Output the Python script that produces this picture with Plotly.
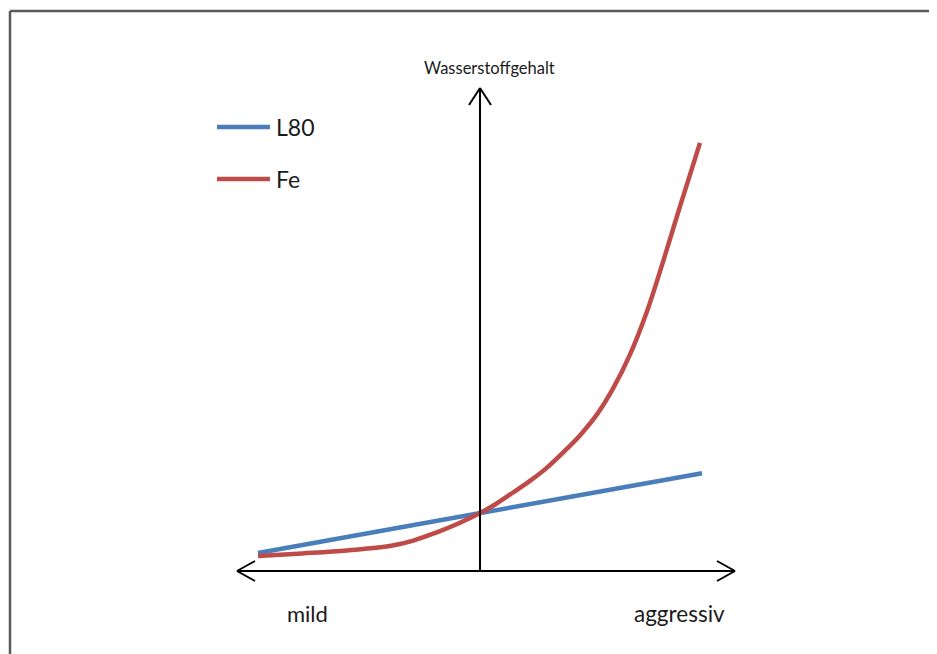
import plotly.graph_objects as go

# ---- data (relative units: x = mild(-1) .. aggressiv(+1), y = Wasserstoffgehalt) ----
l80_x = [-1.0, 1.0]
l80_y = [4.2, 22.8]

fe_x = [-1.0, -0.80, -0.60, -0.40, -0.30, -0.20, -0.10, 0.0, 0.077, 0.149, 0.225,
        0.302, 0.374, 0.450, 0.527, 0.599, 0.676, 0.752, 0.824, 0.901, 0.991]
fe_y = [3.5, 4.1, 4.8, 5.9, 7.1, 8.9, 11.0, 13.5, 15.8, 18.3, 21.0,
        24.1, 27.6, 31.6, 36.5, 42.5, 50.5, 60.5, 72.0, 85.0, 99.8]

series_names = ["L80", "Fe"]
series_colors = ["#4A7EBB", "#BE4B48"]
x_labels = ["mild", "aggressiv"]
y_title = "Wasserstoffgehalt"

# ---- layout geometry (page has an 8px body margin) ----
OFF = 8
W, H = 937, 654
X0_PX, Y0_PX = 480 - OFF, 571 - OFF          # origin in figure pixels
PX_PER_X, PX_PER_Y = 222.0, 4.29

def px(x):
    return (x - OFF) / W

def py(y):
    return 1 - (y - OFF) / H

xr = [(0 - X0_PX) / PX_PER_X, (W - X0_PX) / PX_PER_X]
yr = [-(H - Y0_PX) / PX_PER_Y, Y0_PX / PX_PER_Y]

def dx(p):
    return p / PX_PER_X

def dy(p):
    return p / PX_PER_Y

fig = go.Figure()
fig.add_trace(go.Scatter(x=l80_x, y=l80_y, mode="lines", name=series_names[0],
                         line=dict(color=series_colors[0], width=4.5), showlegend=False))
fig.add_trace(go.Scatter(x=fe_x, y=fe_y, mode="lines", name=series_names[1],
                         line=dict(color=series_colors[1], width=4.5, shape="spline", smoothing=1.0),
                         showlegend=False))

shapes = []
ax_line = dict(color="black", width=2)
# x axis double arrow
x_left = dx(237 - 480)
x_right = dx(735 - 480)
shapes.append(dict(type="line", xref="x", yref="y", x0=x_left, x1=x_right, y0=0, y1=0, line=ax_line))
for tip, sgn in [(x_left, 1), (x_right, -1)]:
    for s in (1, -1):
        shapes.append(dict(type="line", xref="x", yref="y", x0=tip, y0=0,
                           x1=tip + sgn * dx(18), y1=s * dy(10), line=ax_line))
# y axis arrow
y_top = dy(571 - 88)
shapes.append(dict(type="line", xref="x", yref="y", x0=0, x1=0, y0=0, y1=y_top, line=ax_line))
for s in (1, -1):
    shapes.append(dict(type="line", xref="x", yref="y", x0=0, y0=y_top,
                       x1=s * dx(11), y1=y_top - dy(17), line=ax_line))

# frame
frame = dict(color="#5a5a5a", width=2.5)
shapes.append(dict(type="line", xref="paper", yref="paper", x0=px(10), x1=1.01, y0=py(11), y1=py(11), line=frame))
shapes.append(dict(type="line", xref="paper", yref="paper", x0=px(10), x1=px(10), y0=py(11), y1=-0.01, line=frame))

annotations = []
# custom legend
for i, (name, col) in enumerate(zip(series_names, series_colors)):
    ypx = 127 + 52 * i
    shapes.append(dict(type="line", xref="paper", yref="paper", x0=px(217), x1=px(270),
                       y0=py(ypx), y1=py(ypx), line=dict(color=col, width=4.5)))
    annotations.append(dict(xref="paper", yref="paper", x=px(274), y=py(ypx), text=name,
                            showarrow=False, xanchor="left", yanchor="middle",
                            font=dict(size=23, color="#1a1a1a", family="Lato")))

annotations.append(dict(xref="paper", yref="paper", x=px(489), y=py(68), text=y_title, showarrow=False,
                        xanchor="center", yanchor="middle", font=dict(size=16.5, color="#1a1a1a", family="Lato")))
annotations.append(dict(xref="paper", yref="paper", x=px(307), y=py(613), text=x_labels[0], showarrow=False,
                        xanchor="center", yanchor="middle", font=dict(size=22, color="#1a1a1a", family="Lato")))
annotations.append(dict(xref="paper", yref="paper", x=px(679), y=py(613), text=x_labels[1], showarrow=False,
                        xanchor="center", yanchor="middle", font=dict(size=22.5, color="#1a1a1a", family="Lato")))

fig.update_layout(
    width=W, height=H,
    margin=dict(l=0, r=0, t=0, b=0),
    paper_bgcolor="white", plot_bgcolor="white",
    xaxis=dict(range=xr, visible=False, fixedrange=True),
    yaxis=dict(range=yr, visible=False, fixedrange=True),
    shapes=shapes, annotations=annotations,
    showlegend=False,
)

fig.write_html("out.html")
